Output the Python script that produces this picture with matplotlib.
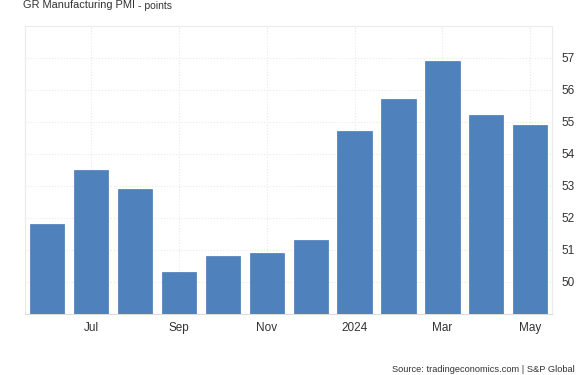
import matplotlib.pyplot as plt
import numpy as np

plt.rcParams['font.family'] = ['Liberation Sans', 'DejaVu Sans']

months = ['Jun', 'Jul', 'Aug', 'Sep', 'Oct', 'Nov', 'Dec',
          'Jan', 'Feb', 'Mar', 'Apr', 'May']
pmi = [51.8, 53.5, 52.9, 50.3, 50.8, 50.9, 51.3,
       54.7, 55.7, 56.9, 55.2, 54.9]
tick_idx = [1, 3, 5, 7, 9, 11]
tick_labels = ['Jul', 'Sep', 'Nov', '2024', 'Mar', 'May']
yticks = [50, 51, 52, 53, 54, 55, 56, 57]

fig = plt.figure(figsize=(5.85, 3.75), dpi=100)
ax = fig.add_axes([0.043, 0.163, 0.901, 0.768])

x = np.arange(len(months))
ax.bar(x, pmi, width=0.78, color='#4f81bd', edgecolor='#4a7ab5',
       linewidth=0.5, zorder=3)

ax.set_xlim(-0.5, 11.5)
ax.set_ylim(49, 58)
ax.set_xticks(tick_idx)
ax.set_xticklabels(tick_labels)
ax.set_yticks(yticks)
ax.yaxis.tick_right()
ax.tick_params(axis='both', length=0, labelsize=8.5, colors='#333333')
ax.tick_params(axis='y', pad=7)
ax.tick_params(axis='x', pad=6)

ax.grid(True, color='#e8e8e8', linestyle=':', linewidth=0.8, zorder=0)
for s in ['top', 'left', 'right']:
    ax.spines[s].set_color('#ebebeb')
    ax.spines[s].set_linewidth(0.8)
ax.spines['bottom'].set_color('#dddddd')

fig.text(0.039, 0.987, 'GR Manufacturing PMI', fontsize=7.9, color='#333333',
         va='center', ha='left')
fig.text(0.236, 0.985, '- points', fontsize=7.5, color='#333333',
         va='center', ha='left')
fig.text(0.983, 0.002, 'Source: tradingeconomics.com | S&P Global',
         fontsize=6.7, color='#333333', ha='right', va='bottom')

fig.savefig('out.png', dpi=100)
